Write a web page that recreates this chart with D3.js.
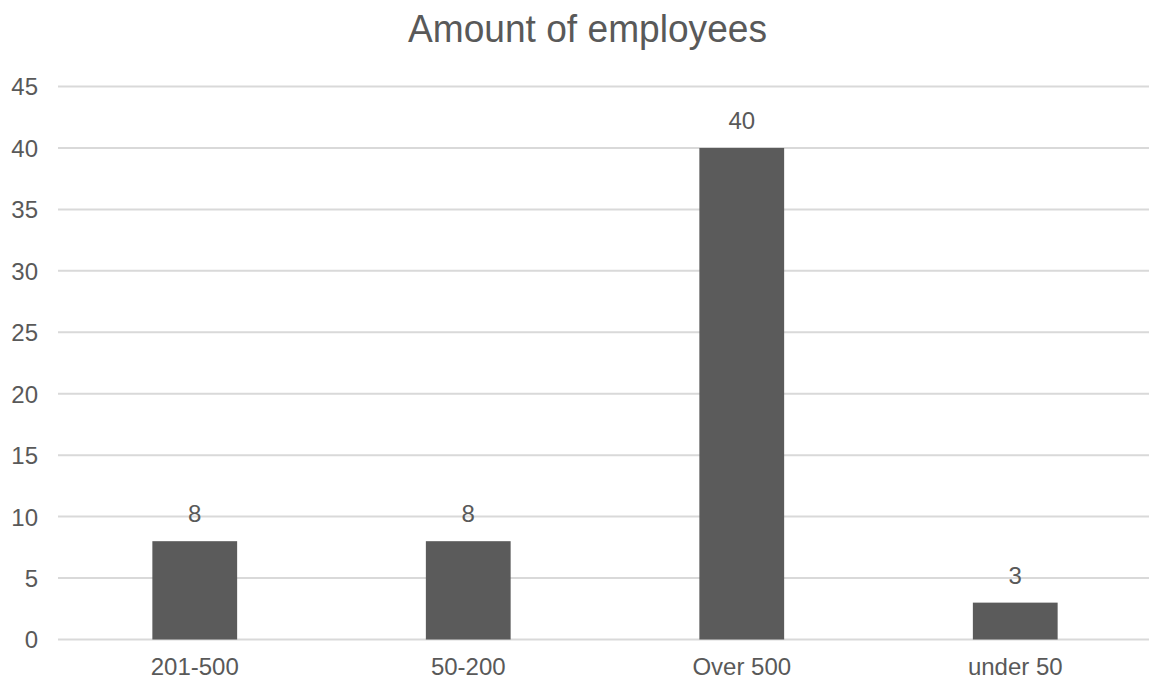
<!DOCTYPE html>
<html>
<head>
<meta charset="utf-8">
<script src="https://cdn.jsdelivr.net/npm/d3@7"></script>
<style>
  html, body { margin: 0; padding: 0; background: #fff; }
  svg { display: block; }
  text { font-family: "Liberation Sans", Arial, sans-serif; fill: #595959; }
</style>
</head>
<body>
<svg id="chart" width="1149" height="686"></svg>
<script>
// Company size distribution
const categories = ["201-500", "50-200", "Over 500", "under 50"];
const counts = [8, 8, 40, 3];
const yTicks = [0, 5, 10, 15, 20, 25, 30, 35, 40, 45];
const chartTitle = "Amount of employees";

const width = 1149, height = 686;
const margin = { top: 86.5, right: -3, bottom: 46.5, left: 58 };

const svg = d3.select("#chart");

const x = d3.scaleBand()
  .domain(categories)
  .range([margin.left, width - margin.right])
  .paddingInner(0.69)
  .paddingOuter(0.345);

const y = d3.scaleLinear()
  .domain([0, 45])
  .range([height - margin.bottom, margin.top]);

// Title
svg.append("text")
  .attr("x", 587.5)
  .attr("y", 42)
  .attr("text-anchor", "middle")
  .style("font-size", "38px")
  .attr("textLength", 359)
  .attr("lengthAdjust", "spacingAndGlyphs")
  .text(chartTitle);

// Horizontal gridlines
svg.append("g")
  .selectAll("line")
  .data(yTicks)
  .join("line")
  .attr("x1", margin.left)
  .attr("x2", width)
  .attr("y1", d => y(d))
  .attr("y2", d => y(d))
  .attr("stroke", "#d9d9d9")
  .attr("stroke-width", 2);

// Y axis labels
const yAxis = d3.axisLeft(y).tickValues(yTicks).tickSize(0).tickPadding(0);
svg.append("g")
  .attr("transform", `translate(${margin.left - 20},0)`)
  .call(yAxis)
  .call(g => g.select(".domain").remove())
  .call(g => g.selectAll("text")
    .style("font-size", "24px")
    .attr("fill", "#595959")
    .attr("dy", "0.35em")
    .style("font-family", "\"Liberation Sans\", Arial, sans-serif"));

// X axis labels
const xAxis = d3.axisBottom(x).tickSize(0).tickPadding(0);
svg.append("g")
  .attr("transform", `translate(0,${y(0) + 18})`)
  .call(xAxis)
  .call(g => g.select(".domain").remove())
  .call(g => g.selectAll("text")
    .style("font-size", "24px")
    .attr("fill", "#595959")
    .attr("dy", "0.71em")
    .style("font-family", "\"Liberation Sans\", Arial, sans-serif"));

// Bars
svg.append("g")
  .selectAll("rect")
  .data(categories)
  .join("rect")
  .attr("x", d => x(d))
  .attr("width", x.bandwidth())
  .attr("y", (d, i) => y(counts[i]))
  .attr("height", (d, i) => y(0) - y(counts[i]))
  .attr("fill", "#5b5b5b");

// Value labels
svg.append("g")
  .selectAll("text")
  .data(categories)
  .join("text")
  .attr("x", d => x(d) + x.bandwidth() / 2)
  .attr("y", (d, i) => y(counts[i]) - 19)
  .attr("text-anchor", "middle")
  .style("font-size", "24px")
  .text((d, i) => counts[i]);
</script>
</body>
</html>
